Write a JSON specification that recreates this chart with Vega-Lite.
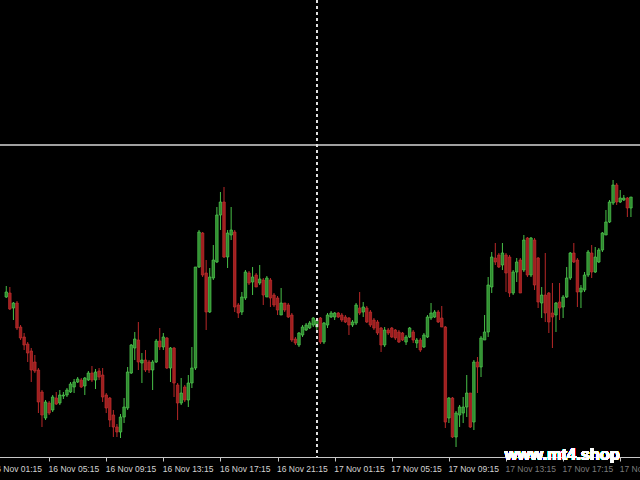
{
"$schema": "https://vega.github.io/schema/vega-lite/v6.json",
"width": 640, "height": 457,
"autosize": {"type": "none"},
"padding": {"left": 0, "right": 0, "top": 0, "bottom": 23},
"background": "#000000",
"config": {"view": {"stroke": null}},
"data": {"values": [
{"t":"2023-11-16T02:15:00Z","o":1.08406,"h":1.08428,"l":1.08404,"c":1.08416},
{"t":"2023-11-16T02:30:00Z","o":1.08414,"h":1.08426,"l":1.08380,"c":1.08382},
{"t":"2023-11-16T02:45:00Z","o":1.08384,"h":1.08396,"l":1.08360,"c":1.08394},
{"t":"2023-11-16T03:00:00Z","o":1.08394,"h":1.08398,"l":1.08340,"c":1.08344},
{"t":"2023-11-16T03:15:00Z","o":1.08346,"h":1.08350,"l":1.08320,"c":1.08324},
{"t":"2023-11-16T03:30:00Z","o":1.08326,"h":1.08334,"l":1.08300,"c":1.08310},
{"t":"2023-11-16T03:45:00Z","o":1.08312,"h":1.08316,"l":1.08276,"c":1.08294},
{"t":"2023-11-16T04:00:00Z","o":1.08298,"h":1.08304,"l":1.08236,"c":1.08260},
{"t":"2023-11-16T04:15:00Z","o":1.08276,"h":1.08290,"l":1.08254,"c":1.08258},
{"t":"2023-11-16T04:30:00Z","o":1.08260,"h":1.08264,"l":1.08174,"c":1.08196},
{"t":"2023-11-16T04:45:00Z","o":1.08216,"h":1.08220,"l":1.08146,"c":1.08170},
{"t":"2023-11-16T05:00:00Z","o":1.08164,"h":1.08200,"l":1.08160,"c":1.08196},
{"t":"2023-11-16T05:15:00Z","o":1.08194,"h":1.08198,"l":1.08170,"c":1.08174},
{"t":"2023-11-16T05:30:00Z","o":1.08180,"h":1.08210,"l":1.08176,"c":1.08206},
{"t":"2023-11-16T05:45:00Z","o":1.08204,"h":1.08216,"l":1.08190,"c":1.08192},
{"t":"2023-11-16T06:00:00Z","o":1.08194,"h":1.08220,"l":1.08190,"c":1.08210},
{"t":"2023-11-16T06:15:00Z","o":1.08208,"h":1.08216,"l":1.08202,"c":1.08210},
{"t":"2023-11-16T06:30:00Z","o":1.08210,"h":1.08224,"l":1.08206,"c":1.08220},
{"t":"2023-11-16T06:45:00Z","o":1.08216,"h":1.08236,"l":1.08214,"c":1.08232},
{"t":"2023-11-16T07:00:00Z","o":1.08226,"h":1.08242,"l":1.08214,"c":1.08236},
{"t":"2023-11-16T07:15:00Z","o":1.08236,"h":1.08246,"l":1.08234,"c":1.08242},
{"t":"2023-11-16T07:30:00Z","o":1.08240,"h":1.08244,"l":1.08224,"c":1.08226},
{"t":"2023-11-16T07:45:00Z","o":1.08228,"h":1.08246,"l":1.08210,"c":1.08244},
{"t":"2023-11-16T08:00:00Z","o":1.08240,"h":1.08258,"l":1.08238,"c":1.08254},
{"t":"2023-11-16T08:15:00Z","o":1.08254,"h":1.08268,"l":1.08236,"c":1.08240},
{"t":"2023-11-16T08:30:00Z","o":1.08240,"h":1.08262,"l":1.08222,"c":1.08256},
{"t":"2023-11-16T08:45:00Z","o":1.08258,"h":1.08264,"l":1.08240,"c":1.08246},
{"t":"2023-11-16T09:00:00Z","o":1.08250,"h":1.08264,"l":1.08196,"c":1.08206},
{"t":"2023-11-16T09:15:00Z","o":1.08210,"h":1.08214,"l":1.08174,"c":1.08184},
{"t":"2023-11-16T09:30:00Z","o":1.08204,"h":1.08206,"l":1.08146,"c":1.08160},
{"t":"2023-11-16T09:45:00Z","o":1.08170,"h":1.08180,"l":1.08126,"c":1.08146},
{"t":"2023-11-16T10:00:00Z","o":1.08146,"h":1.08152,"l":1.08126,"c":1.08136},
{"t":"2023-11-16T10:15:00Z","o":1.08136,"h":1.08172,"l":1.08124,"c":1.08166},
{"t":"2023-11-16T10:30:00Z","o":1.08166,"h":1.08204,"l":1.08154,"c":1.08186},
{"t":"2023-11-16T10:45:00Z","o":1.08184,"h":1.08266,"l":1.08180,"c":1.08256},
{"t":"2023-11-16T11:00:00Z","o":1.08254,"h":1.08312,"l":1.08252,"c":1.08310},
{"t":"2023-11-16T11:15:00Z","o":1.08304,"h":1.08336,"l":1.08280,"c":1.08322},
{"t":"2023-11-16T11:30:00Z","o":1.08320,"h":1.08356,"l":1.08260,"c":1.08276},
{"t":"2023-11-16T11:45:00Z","o":1.08274,"h":1.08294,"l":1.08234,"c":1.08280},
{"t":"2023-11-16T12:00:00Z","o":1.08280,"h":1.08300,"l":1.08256,"c":1.08260},
{"t":"2023-11-16T12:15:00Z","o":1.08276,"h":1.08280,"l":1.08254,"c":1.08260},
{"t":"2023-11-16T12:30:00Z","o":1.08260,"h":1.08280,"l":1.08220,"c":1.08276},
{"t":"2023-11-16T12:45:00Z","o":1.08276,"h":1.08322,"l":1.08274,"c":1.08318},
{"t":"2023-11-16T13:00:00Z","o":1.08318,"h":1.08344,"l":1.08300,"c":1.08306},
{"t":"2023-11-16T13:15:00Z","o":1.08306,"h":1.08334,"l":1.08300,"c":1.08326},
{"t":"2023-11-16T13:30:00Z","o":1.08324,"h":1.08326,"l":1.08262,"c":1.08264},
{"t":"2023-11-16T13:45:00Z","o":1.08264,"h":1.08306,"l":1.08236,"c":1.08304},
{"t":"2023-11-16T14:00:00Z","o":1.08304,"h":1.08306,"l":1.08206,"c":1.08234},
{"t":"2023-11-16T14:15:00Z","o":1.08230,"h":1.08234,"l":1.08160,"c":1.08194},
{"t":"2023-11-16T14:30:00Z","o":1.08194,"h":1.08244,"l":1.08190,"c":1.08214},
{"t":"2023-11-16T14:45:00Z","o":1.08226,"h":1.08230,"l":1.08196,"c":1.08200},
{"t":"2023-11-16T15:00:00Z","o":1.08200,"h":1.08250,"l":1.08186,"c":1.08234},
{"t":"2023-11-16T15:15:00Z","o":1.08234,"h":1.08306,"l":1.08224,"c":1.08264},
{"t":"2023-11-16T15:30:00Z","o":1.08264,"h":1.08466,"l":1.08260,"c":1.08466},
{"t":"2023-11-16T15:45:00Z","o":1.08466,"h":1.08540,"l":1.08464,"c":1.08536},
{"t":"2023-11-16T16:00:00Z","o":1.08534,"h":1.08536,"l":1.08446,"c":1.08450},
{"t":"2023-11-16T16:15:00Z","o":1.08454,"h":1.08480,"l":1.08340,"c":1.08376},
{"t":"2023-11-16T16:30:00Z","o":1.08376,"h":1.08464,"l":1.08374,"c":1.08446},
{"t":"2023-11-16T16:45:00Z","o":1.08444,"h":1.08510,"l":1.08440,"c":1.08480},
{"t":"2023-11-16T17:00:00Z","o":1.08476,"h":1.08586,"l":1.08474,"c":1.08570},
{"t":"2023-11-16T17:15:00Z","o":1.08570,"h":1.08616,"l":1.08540,"c":1.08596},
{"t":"2023-11-16T17:30:00Z","o":1.08596,"h":1.08626,"l":1.08484,"c":1.08486},
{"t":"2023-11-16T17:45:00Z","o":1.08486,"h":1.08540,"l":1.08464,"c":1.08534},
{"t":"2023-11-16T18:00:00Z","o":1.08530,"h":1.08586,"l":1.08520,"c":1.08540},
{"t":"2023-11-16T18:15:00Z","o":1.08536,"h":1.08540,"l":1.08376,"c":1.08386},
{"t":"2023-11-16T18:30:00Z","o":1.08390,"h":1.08394,"l":1.08364,"c":1.08374},
{"t":"2023-11-16T18:45:00Z","o":1.08376,"h":1.08416,"l":1.08370,"c":1.08406},
{"t":"2023-11-16T19:00:00Z","o":1.08404,"h":1.08460,"l":1.08400,"c":1.08456},
{"t":"2023-11-16T19:15:00Z","o":1.08454,"h":1.08458,"l":1.08430,"c":1.08434},
{"t":"2023-11-16T19:30:00Z","o":1.08436,"h":1.08466,"l":1.08410,"c":1.08446},
{"t":"2023-11-16T19:45:00Z","o":1.08450,"h":1.08454,"l":1.08426,"c":1.08426},
{"t":"2023-11-16T20:00:00Z","o":1.08434,"h":1.08470,"l":1.08430,"c":1.08442},
{"t":"2023-11-16T20:15:00Z","o":1.08440,"h":1.08444,"l":1.08390,"c":1.08410},
{"t":"2023-11-16T20:30:00Z","o":1.08406,"h":1.08448,"l":1.08406,"c":1.08444},
{"t":"2023-11-16T20:45:00Z","o":1.08440,"h":1.08444,"l":1.08386,"c":1.08404},
{"t":"2023-11-16T21:00:00Z","o":1.08410,"h":1.08414,"l":1.08386,"c":1.08390},
{"t":"2023-11-16T21:15:00Z","o":1.08404,"h":1.08408,"l":1.08370,"c":1.08380},
{"t":"2023-11-16T21:30:00Z","o":1.08370,"h":1.08424,"l":1.08370,"c":1.08394},
{"t":"2023-11-16T21:45:00Z","o":1.08394,"h":1.08394,"l":1.08376,"c":1.08380},
{"t":"2023-11-16T22:00:00Z","o":1.08390,"h":1.08394,"l":1.08364,"c":1.08366},
{"t":"2023-11-16T22:15:00Z","o":1.08370,"h":1.08374,"l":1.08316,"c":1.08320},
{"t":"2023-11-16T22:30:00Z","o":1.08322,"h":1.08326,"l":1.08310,"c":1.08314},
{"t":"2023-11-16T22:45:00Z","o":1.08310,"h":1.08336,"l":1.08306,"c":1.08334},
{"t":"2023-11-16T23:00:00Z","o":1.08330,"h":1.08350,"l":1.08326,"c":1.08346},
{"t":"2023-11-16T23:15:00Z","o":1.08340,"h":1.08354,"l":1.08338,"c":1.08350},
{"t":"2023-11-16T23:30:00Z","o":1.08344,"h":1.08358,"l":1.08342,"c":1.08354},
{"t":"2023-11-16T23:45:00Z","o":1.08350,"h":1.08366,"l":1.08346,"c":1.08364},
{"t":"2023-11-17T00:00:00Z","o":1.08346,"h":1.08364,"l":1.08334,"c":1.08360},
{"t":"2023-11-17T00:15:00Z","o":1.08364,"h":1.08366,"l":1.08312,"c":1.08316},
{"t":"2023-11-17T00:30:00Z","o":1.08316,"h":1.08356,"l":1.08312,"c":1.08354},
{"t":"2023-11-17T00:45:00Z","o":1.08350,"h":1.08374,"l":1.08344,"c":1.08370},
{"t":"2023-11-17T01:00:00Z","o":1.08366,"h":1.08378,"l":1.08364,"c":1.08374},
{"t":"2023-11-17T01:15:00Z","o":1.08366,"h":1.08376,"l":1.08360,"c":1.08374},
{"t":"2023-11-17T01:30:00Z","o":1.08374,"h":1.08376,"l":1.08364,"c":1.08366},
{"t":"2023-11-17T01:45:00Z","o":1.08370,"h":1.08374,"l":1.08356,"c":1.08360},
{"t":"2023-11-17T02:00:00Z","o":1.08366,"h":1.08370,"l":1.08354,"c":1.08356},
{"t":"2023-11-17T02:15:00Z","o":1.08364,"h":1.08366,"l":1.08330,"c":1.08350},
{"t":"2023-11-17T02:30:00Z","o":1.08350,"h":1.08360,"l":1.08346,"c":1.08356},
{"t":"2023-11-17T02:45:00Z","o":1.08354,"h":1.08394,"l":1.08350,"c":1.08390},
{"t":"2023-11-17T03:00:00Z","o":1.08384,"h":1.08416,"l":1.08370,"c":1.08374},
{"t":"2023-11-17T03:15:00Z","o":1.08376,"h":1.08396,"l":1.08366,"c":1.08386},
{"t":"2023-11-17T03:30:00Z","o":1.08384,"h":1.08388,"l":1.08354,"c":1.08356},
{"t":"2023-11-17T03:45:00Z","o":1.08376,"h":1.08380,"l":1.08346,"c":1.08350},
{"t":"2023-11-17T04:00:00Z","o":1.08360,"h":1.08364,"l":1.08340,"c":1.08344},
{"t":"2023-11-17T04:15:00Z","o":1.08356,"h":1.08360,"l":1.08330,"c":1.08334},
{"t":"2023-11-17T04:30:00Z","o":1.08344,"h":1.08346,"l":1.08296,"c":1.08310},
{"t":"2023-11-17T04:45:00Z","o":1.08310,"h":1.08346,"l":1.08306,"c":1.08340},
{"t":"2023-11-17T05:00:00Z","o":1.08340,"h":1.08344,"l":1.08330,"c":1.08334},
{"t":"2023-11-17T05:15:00Z","o":1.08344,"h":1.08346,"l":1.08324,"c":1.08326},
{"t":"2023-11-17T05:30:00Z","o":1.08340,"h":1.08342,"l":1.08320,"c":1.08324},
{"t":"2023-11-17T05:45:00Z","o":1.08336,"h":1.08340,"l":1.08314,"c":1.08316},
{"t":"2023-11-17T06:00:00Z","o":1.08334,"h":1.08336,"l":1.08318,"c":1.08320},
{"t":"2023-11-17T06:15:00Z","o":1.08316,"h":1.08330,"l":1.08310,"c":1.08326},
{"t":"2023-11-17T06:30:00Z","o":1.08326,"h":1.08346,"l":1.08324,"c":1.08344},
{"t":"2023-11-17T06:45:00Z","o":1.08336,"h":1.08340,"l":1.08314,"c":1.08320},
{"t":"2023-11-17T07:00:00Z","o":1.08314,"h":1.08324,"l":1.08304,"c":1.08320},
{"t":"2023-11-17T07:15:00Z","o":1.08320,"h":1.08324,"l":1.08296,"c":1.08300},
{"t":"2023-11-17T07:30:00Z","o":1.08306,"h":1.08334,"l":1.08304,"c":1.08330},
{"t":"2023-11-17T07:45:00Z","o":1.08326,"h":1.08370,"l":1.08324,"c":1.08366},
{"t":"2023-11-17T08:00:00Z","o":1.08364,"h":1.08394,"l":1.08360,"c":1.08374},
{"t":"2023-11-17T08:15:00Z","o":1.08366,"h":1.08380,"l":1.08364,"c":1.08376},
{"t":"2023-11-17T08:30:00Z","o":1.08376,"h":1.08380,"l":1.08354,"c":1.08356},
{"t":"2023-11-17T08:45:00Z","o":1.08364,"h":1.08388,"l":1.08346,"c":1.08346},
{"t":"2023-11-17T09:00:00Z","o":1.08346,"h":1.08348,"l":1.08144,"c":1.08156},
{"t":"2023-11-17T09:15:00Z","o":1.08164,"h":1.08206,"l":1.08154,"c":1.08204},
{"t":"2023-11-17T09:30:00Z","o":1.08204,"h":1.08206,"l":1.08124,"c":1.08126},
{"t":"2023-11-17T09:45:00Z","o":1.08126,"h":1.08178,"l":1.08106,"c":1.08174},
{"t":"2023-11-17T10:00:00Z","o":1.08170,"h":1.08190,"l":1.08146,"c":1.08186},
{"t":"2023-11-17T10:15:00Z","o":1.08174,"h":1.08206,"l":1.08154,"c":1.08186},
{"t":"2023-11-17T10:30:00Z","o":1.08186,"h":1.08250,"l":1.08166,"c":1.08214},
{"t":"2023-11-17T10:45:00Z","o":1.08214,"h":1.08214,"l":1.08144,"c":1.08146},
{"t":"2023-11-17T11:00:00Z","o":1.08156,"h":1.08280,"l":1.08140,"c":1.08276},
{"t":"2023-11-17T11:15:00Z","o":1.08276,"h":1.08286,"l":1.08214,"c":1.08266},
{"t":"2023-11-17T11:30:00Z","o":1.08266,"h":1.08328,"l":1.08246,"c":1.08324},
{"t":"2023-11-17T11:45:00Z","o":1.08320,"h":1.08370,"l":1.08320,"c":1.08336},
{"t":"2023-11-17T12:00:00Z","o":1.08336,"h":1.08446,"l":1.08326,"c":1.08430},
{"t":"2023-11-17T12:15:00Z","o":1.08426,"h":1.08496,"l":1.08414,"c":1.08486},
{"t":"2023-11-17T12:30:00Z","o":1.08484,"h":1.08514,"l":1.08470,"c":1.08476},
{"t":"2023-11-17T12:45:00Z","o":1.08490,"h":1.08494,"l":1.08464,"c":1.08466},
{"t":"2023-11-17T13:00:00Z","o":1.08470,"h":1.08514,"l":1.08460,"c":1.08494},
{"t":"2023-11-17T13:15:00Z","o":1.08490,"h":1.08494,"l":1.08416,"c":1.08454},
{"t":"2023-11-17T13:30:00Z","o":1.08486,"h":1.08490,"l":1.08406,"c":1.08414},
{"t":"2023-11-17T13:45:00Z","o":1.08414,"h":1.08460,"l":1.08410,"c":1.08456},
{"t":"2023-11-17T14:00:00Z","o":1.08456,"h":1.08484,"l":1.08436,"c":1.08476},
{"t":"2023-11-17T14:15:00Z","o":1.08480,"h":1.08484,"l":1.08414,"c":1.08414},
{"t":"2023-11-17T14:30:00Z","o":1.08460,"h":1.08530,"l":1.08456,"c":1.08520},
{"t":"2023-11-17T14:45:00Z","o":1.08524,"h":1.08526,"l":1.08446,"c":1.08450},
{"t":"2023-11-17T15:00:00Z","o":1.08450,"h":1.08526,"l":1.08446,"c":1.08524},
{"t":"2023-11-17T15:15:00Z","o":1.08520,"h":1.08524,"l":1.08420,"c":1.08430},
{"t":"2023-11-17T15:30:00Z","o":1.08484,"h":1.08486,"l":1.08384,"c":1.08396},
{"t":"2023-11-17T15:45:00Z","o":1.08394,"h":1.08426,"l":1.08364,"c":1.08410},
{"t":"2023-11-17T16:00:00Z","o":1.08410,"h":1.08494,"l":1.08356,"c":1.08374},
{"t":"2023-11-17T16:15:00Z","o":1.08414,"h":1.08416,"l":1.08334,"c":1.08356},
{"t":"2023-11-17T16:30:00Z","o":1.08374,"h":1.08434,"l":1.08304,"c":1.08366},
{"t":"2023-11-17T16:45:00Z","o":1.08370,"h":1.08396,"l":1.08336,"c":1.08394},
{"t":"2023-11-17T17:00:00Z","o":1.08396,"h":1.08434,"l":1.08360,"c":1.08384},
{"t":"2023-11-17T17:15:00Z","o":1.08386,"h":1.08410,"l":1.08364,"c":1.08406},
{"t":"2023-11-17T17:30:00Z","o":1.08406,"h":1.08466,"l":1.08404,"c":1.08444},
{"t":"2023-11-17T17:45:00Z","o":1.08444,"h":1.08496,"l":1.08440,"c":1.08494},
{"t":"2023-11-17T18:00:00Z","o":1.08494,"h":1.08514,"l":1.08474,"c":1.08476},
{"t":"2023-11-17T18:15:00Z","o":1.08480,"h":1.08484,"l":1.08386,"c":1.08416},
{"t":"2023-11-17T18:30:00Z","o":1.08416,"h":1.08430,"l":1.08384,"c":1.08424},
{"t":"2023-11-17T18:45:00Z","o":1.08420,"h":1.08456,"l":1.08416,"c":1.08450},
{"t":"2023-11-17T19:00:00Z","o":1.08450,"h":1.08500,"l":1.08446,"c":1.08496},
{"t":"2023-11-17T19:15:00Z","o":1.08494,"h":1.08510,"l":1.08444,"c":1.08456},
{"t":"2023-11-17T19:30:00Z","o":1.08456,"h":1.08506,"l":1.08454,"c":1.08486},
{"t":"2023-11-17T19:45:00Z","o":1.08476,"h":1.08504,"l":1.08474,"c":1.08500},
{"t":"2023-11-17T20:00:00Z","o":1.08500,"h":1.08536,"l":1.08496,"c":1.08534},
{"t":"2023-11-17T20:15:00Z","o":1.08530,"h":1.08580,"l":1.08530,"c":1.08556},
{"t":"2023-11-17T20:30:00Z","o":1.08556,"h":1.08600,"l":1.08554,"c":1.08596},
{"t":"2023-11-17T20:45:00Z","o":1.08594,"h":1.08640,"l":1.08590,"c":1.08630},
{"t":"2023-11-17T21:00:00Z","o":1.08630,"h":1.08634,"l":1.08590,"c":1.08596},
{"t":"2023-11-17T21:15:00Z","o":1.08596,"h":1.08620,"l":1.08594,"c":1.08604},
{"t":"2023-11-17T21:30:00Z","o":1.08600,"h":1.08610,"l":1.08598,"c":1.08604},
{"t":"2023-11-17T21:45:00Z","o":1.08604,"h":1.08606,"l":1.08566,"c":1.08584},
{"t":"2023-11-17T22:00:00Z","o":1.08584,"h":1.08606,"l":1.08566,"c":1.08606}
]},
"layer": [
{
"mark": {"type": "rule", "strokeWidth": 1},
"encoding": {
"x": {"field": "t", "type": "temporal",
"scale": {"type": "utc", "range": [-13.24, 640], "domain": [
{"year": 2023, "month": 11, "date": 16, "hours": 1, "minutes": 14, "utc": true},
{"year": 2023, "month": 11, "date": 17, "hours": 22, "minutes": 17, "seconds": 4, "utc": true}]},
"axis": {
"title": null, "grid": false, "format": "%d %b %H:%M",
"values": [
{"year": 2023, "month": 11, "date": 16, "hours": 1, "minutes": 15, "utc": true},
{"year": 2023, "month": 11, "date": 16, "hours": 5, "minutes": 15, "utc": true},
{"year": 2023, "month": 11, "date": 16, "hours": 9, "minutes": 15, "utc": true},
{"year": 2023, "month": 11, "date": 16, "hours": 13, "minutes": 15, "utc": true},
{"year": 2023, "month": 11, "date": 16, "hours": 17, "minutes": 15, "utc": true},
{"year": 2023, "month": 11, "date": 16, "hours": 21, "minutes": 15, "utc": true},
{"year": 2023, "month": 11, "date": 17, "hours": 1, "minutes": 15, "utc": true},
{"year": 2023, "month": 11, "date": 17, "hours": 5, "minutes": 15, "utc": true},
{"year": 2023, "month": 11, "date": 17, "hours": 9, "minutes": 15, "utc": true},
{"year": 2023, "month": 11, "date": 17, "hours": 13, "minutes": 15, "utc": true},
{"year": 2023, "month": 11, "date": 17, "hours": 17, "minutes": 15, "utc": true},
{"year": 2023, "month": 11, "date": 17, "hours": 21, "minutes": 15, "utc": true}],
"labelAlign": "left", "labelBaseline": "top", "labelPadding": 3, "labelOffset": -1,
"labelFlush": false, "labelOverlap": false, "labelBound": false,
"labelFont": "Liberation Sans", "labelFontSize": 8.5,
"labelColor": {"condition": {"test": "datum.value >= utc(2023,10,17,12,0)", "value": "#7c7c7c"}, "value": "#d4d4d4"},
"domainColor": "#c8c8c8", "domainWidth": 1,
"tickColor": "#c8c8c8", "tickSize": 4, "tickWidth": 1
}},
"y": {"field": "l", "type": "quantitative",
"scale": {"domain": [1.08086, 1.09], "nice": false, "zero": false}, "axis": null},
"y2": {"field": "h"},
"color": {"condition": {"test": "datum.c >= datum.o", "value": "#48c048"}, "value": "#b82828"}
}
},
{
"mark": {"type": "bar", "size": 2.5, "strokeWidth": 0.7},
"encoding": {
"x": {"field": "t", "type": "temporal"},
"y": {"field": "o", "type": "quantitative"},
"y2": {"field": "c"},
"fill": {"condition": {"test": "datum.c >= datum.o", "value": "#2f8a2f"}, "value": "#a01e1e"},
"stroke": {"condition": {"test": "datum.c >= datum.o", "value": "#52cc52"}, "value": "#c03030"}
}
},
{
"mark": {"type": "rule", "color": "#a0a0a0", "strokeWidth": 1.5},
"encoding": {"y": {"datum": 1.0871}}
},
{
"mark": {"type": "rule", "color": "#e0e0e0", "strokeWidth": 1, "strokeDash": [3, 3]},
"encoding": {"x": {"datum": {"year": 2023, "month": 11, "date": 17, "hours": 0, "minutes": 0, "utc": true}, "type": "temporal"}}
},
{
"mark": {"type": "text", "text": "www.mt4.shop", "font": "Liberation Sans", "fontWeight": "bold", "fontSize": 16.4, "color": "#ffffff", "align": "left", "baseline": "alphabetic"},
"encoding": {
"x": {"datum": {"year": 2023, "month": 11, "date": 17, "hours": 13, "minutes": 10, "utc": true}, "type": "temporal"},
"y": {"datum": 1.0808}
}
}
]
}
